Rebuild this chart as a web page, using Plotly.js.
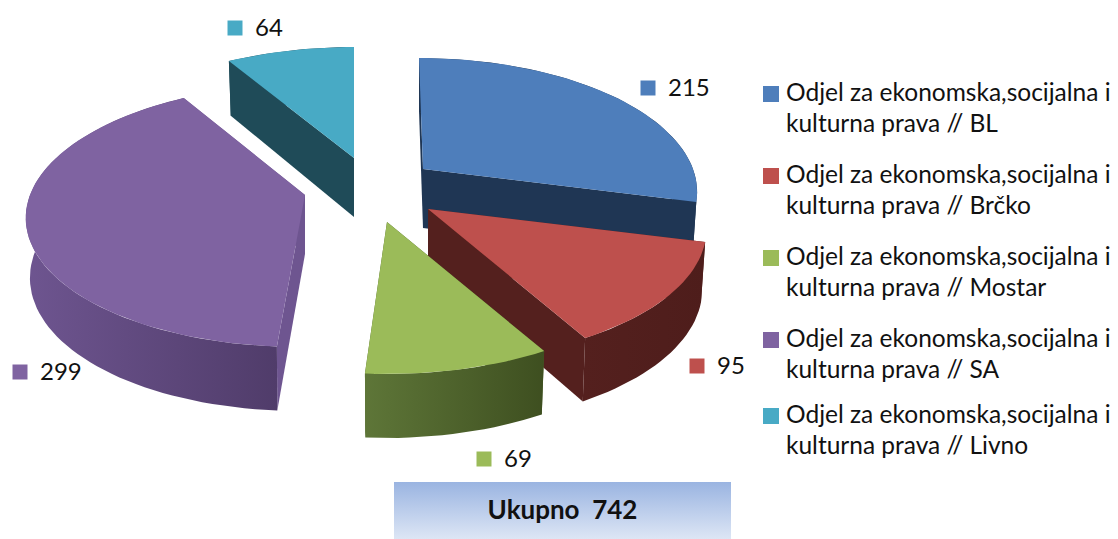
<!DOCTYPE html>
<html><head><meta charset="utf-8">
<script src="https://cdn.plot.ly/plotly-3.0.1.min.js"></script>
<style>html,body{margin:0;padding:0;background:#fff}#c{width:1118px;height:539px}</style>
</head><body><div id="c"></div>
<script>
const categories = ["BL","Brčko","Mostar","SA","Livno"];
const values = [215,95,69,299,64];
const legendLine1 = "Odjel za ekonomska,socijalna i";
const legendLine2 = "kulturna prava // ";
const topColors = ["#4E7EBB","#BE504D","#9BBB59","#7F63A1","#48AAC5"];
const faceColors = ["#1F3654","#54201E","#4A5F2A","#6E5590","#1F4B58"];
const wallLeft = ["#1F3654","#54201E","#5E7638","#6E5590","#1F4B58"];
const wallRight = ["#1F3654","#4E1D1B","#3E4F20","#503C6A","#1F4B58"];

// layout constants (pixel space of the hidden axes)
const apexX = [423,428,387,305,354];
const apexY = [169,209,222,195,158];
const radii = [270,275,275,275,275];
const shear = [0.036,0,0,-0.04,0];
const K = 128.3, C = 0.156, BASE = 59, BASE_VAR = 5, SHRINK = 0.985;
const labelX = [648,697,484,20,235];
const labelY = [88,366,459,372,28];
const legendX = 771, legendY = [94,176,258,340,416];

const total = values.reduce((a,b)=>a+b,0);
function rim(i,deg,bottom){
  const t = deg*Math.PI/180, s = 1/(1+C*Math.cos(t));
  const dy = -K*Math.cos(t)*s;
  const dx = radii[i]*Math.sin(t)*s + shear[i]*dy;
  if(!bottom) return [apexX[i]+dx, apexY[i]+dy];
  return [apexX[i]+dx*SHRINK, apexY[i]+dy+BASE-BASE_VAR*Math.cos(t)];
}
function arc(i,a,b,bottom){
  const pts=[]; const n=Math.max(6,Math.ceil(Math.abs(b-a)/2));
  for(let k=0;k<=n;k++) pts.push(rim(i,a+(b-a)*k/n,bottom));
  return pts;
}
function poly(pts,color,grad){
  const closed=pts.concat([pts[0]]);
  const tr={type:"scatter",mode:"lines",x:closed.map(p=>p[0]),y:closed.map(p=>p[1]),
    fill:"toself",line:{width:0,color:color},fillcolor:color,hoverinfo:"skip",showlegend:false};
  if(grad) tr.fillgradient={type:"horizontal",colorscale:[[0,grad[0]],[1,grad[1]]]};
  return tr;
}
const traces=[];
const starts=[]; let cum=0;
values.forEach(v=>{starts.push(cum); cum+=v/total*360;});
const order=[4,3,0,1,2];
order.forEach(i=>{
  const a=starts[i], b=a+values[i]/total*360;
  const A=[apexX[i],apexY[i]], AB=[apexX[i],apexY[i]+BASE];
  traces.push(poly([A,rim(i,a,false),rim(i,a,true),AB],faceColors[i]));
  traces.push(poly([A,rim(i,b,false),rim(i,b,true),AB],faceColors[i]));
  traces.push(poly(arc(i,a,b,false).concat(arc(i,b,a,true)),wallLeft[i],[wallLeft[i],wallRight[i]]));
  traces.push(poly([A].concat(arc(i,a,b,false)),topColors[i]));
});
// data labels with swatches
traces.push({type:"scatter",mode:"markers",x:labelX,y:labelY,
  marker:{symbol:"square",size:15,color:topColors,line:{width:0}},hoverinfo:"skip",showlegend:false});
traces.push({type:"scatter",mode:"text",x:labelX.map(v=>v+20),y:labelY.map(v=>v+2),text:values.map(String),
  textposition:"middle right",textfont:{family:"Lato",size:24,color:"#111"},hoverinfo:"skip",showlegend:false});
// legend
traces.push({type:"scatter",mode:"markers",x:categories.map(()=>legendX),y:legendY,
  marker:{symbol:"square",size:16,color:topColors,line:{width:0}},hoverinfo:"skip",showlegend:false});
const lx=[],ly=[],lt=[];
categories.forEach((c,i)=>{
  lx.push(786,786); ly.push(legendY[i]+1,legendY[i]+32); lt.push(legendLine1,legendLine2+c);
});
traces.push({type:"scatter",mode:"text",x:lx,y:ly,text:lt,textposition:"middle right",
  textfont:{family:"Lato",size:24.5,color:"#111"},hoverinfo:"skip",showlegend:false});
// total box
const bx=[394,731,731,394,394], by=[482,482,539,539,482];
traces.push({type:"scatter",mode:"lines",x:bx,y:by,fill:"toself",line:{width:0},
  fillcolor:"#BCCDEB",fillgradient:{type:"vertical",colorscale:[[0,"#DDE6F5"],[1,"#9AB4E1"]]},
  hoverinfo:"skip",showlegend:false});
traces.push({type:"scatter",mode:"text",x:[562.5],y:[512],text:["<b>Ukupno\u00a0\u00a0"+total+"</b>"],
  textposition:"middle center",textfont:{family:"Lato",size:26,color:"#111"},hoverinfo:"skip",showlegend:false});

const hidden={range:[0,1118],visible:false,fixedrange:true};
Plotly.newPlot("c",traces,{
  width:1118,height:539,margin:{l:0,r:0,t:0,b:0},
  paper_bgcolor:"#fff",plot_bgcolor:"#fff",showlegend:false,
  xaxis:hidden,yaxis:{range:[539,0],visible:false,fixedrange:true}
},{displayModeBar:false,staticPlot:true});
</script></body></html>
